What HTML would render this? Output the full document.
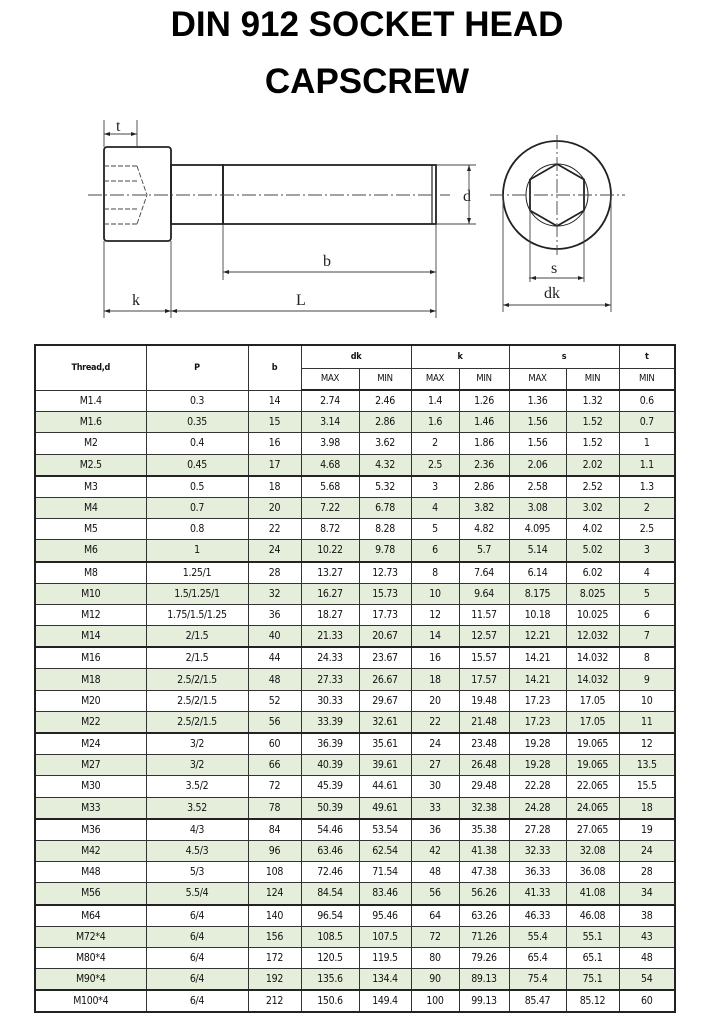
<!DOCTYPE html>
<html><head><meta charset="utf-8"><style>
body{margin:0;width:720px;height:1024px;background:#fff;position:relative;overflow:hidden;font-family:"Liberation Sans",sans-serif}
.t{position:absolute;left:0;width:734px;text-align:center;font-weight:bold;font-size:35px;color:#000}
table{position:absolute;left:34px;top:344px;width:640px;border-collapse:collapse;table-layout:fixed;border:2px solid #222}
td{border:1px solid #333;text-align:center;font-size:10.5px;height:20.2px;padding:0;color:#111;font-family:"DejaVu Sans Condensed","Liberation Sans",sans-serif;letter-spacing:-0.3px;line-height:12px}
td.h{font-weight:bold;font-size:9px;height:22px}
td.s{font-size:9.5px;height:20px}
tr.g td{background:#e5eedb}
tr.b td{border-bottom:2px solid #222}
</style></head><body>
<div class="t" style="top:5px">DIN 912 SOCKET HEAD</div>
<div class="t" style="top:62px">CAPSCREW</div>
<svg width="720" height="340" style="position:absolute;left:0;top:0" font-family="Liberation Serif,serif" font-size="16">
<g stroke="#222" fill="none" stroke-width="1.8">
<rect x="104" y="147" width="67" height="94" rx="3"/>
<rect x="171" y="165" width="52" height="59"/>
<rect x="223" y="165" width="213" height="59"/>
<line x1="432" y1="165" x2="432" y2="224" stroke-width="1.2"/>
<circle cx="557" cy="195" r="54"/>
<polygon points="557,164 584,179.5 584,210.5 557,226 530,210.5 530,179.5"/>
<circle cx="557" cy="195" r="31" stroke-width="1"/>
</g>
<g stroke="#444" stroke-width="0.9" fill="none">
<line x1="88" y1="195" x2="450" y2="195" stroke-dasharray="14,3,2,3"/>
<line x1="490" y1="195" x2="625" y2="195" stroke-dasharray="14,3,2,3"/>
<line x1="557" y1="135" x2="557" y2="255" stroke-dasharray="14,3,2,3"/>
<path d="M104 166h33M104 181h33M104 209h33M104 224h33M137 166l10 29-10 29" stroke-dasharray="5,2"/>
<path d="M104 147V120M137 147V120M104 241V318M171 241V318M223 224V280M436 224V318M436 165h40M436 224h40M530 210V282M584 210V282M503 195V312M611 195V312"/>
<path d="M104 134h33M469 165v59M223 272h213M104 311h332M529 278h55M503 305h108"/>
</g>
<g fill="#222">
<path d="M104 134l6-2v4zM137 134l-6-2v4zM469 165l-2 6h4zM469 224l-2-6h4zM223 272l6-2v4zM436 272l-6-2v4zM104 311l6-2v4zM171 311l-6-2v4zM171 311l6-2v4zM436 311l-6-2v4zM530 278l6-2v4zM584 278l-6-2v4zM503 305l6-2v4zM611 305l-6-2v4z"/>
<text x="116" y="131">t</text><text x="463" y="201">d</text><text x="323" y="266">b</text>
<text x="132" y="305">k</text><text x="296" y="305">L</text><text x="551" y="273">s</text><text x="544" y="298">dk</text>
</g>
</svg>
<table>
<colgroup><col style="width:111px"><col style="width:102px"><col style="width:53px"><col style="width:58px"><col style="width:52px"><col style="width:48px"><col style="width:50px"><col style="width:57px"><col style="width:53px"><col style="width:56px"></colgroup>
<tr><td class="h" rowspan="2">Thread,d</td><td class="h" rowspan="2">P</td><td class="h" rowspan="2">b</td><td class="h" colspan="2">dk</td><td class="h" colspan="2">k</td><td class="h" colspan="2">s</td><td class="h">t</td></tr>
<tr class="b"><td class="s">MAX</td><td class="s">MIN</td><td class="s">MAX</td><td class="s">MIN</td><td class="s">MAX</td><td class="s">MIN</td><td class="s">MIN</td></tr>
<tr><td>M1.4</td><td>0.3</td><td>14</td><td>2.74</td><td>2.46</td><td>1.4</td><td>1.26</td><td>1.36</td><td>1.32</td><td>0.6</td></tr>
<tr class="g"><td>M1.6</td><td>0.35</td><td>15</td><td>3.14</td><td>2.86</td><td>1.6</td><td>1.46</td><td>1.56</td><td>1.52</td><td>0.7</td></tr>
<tr><td>M2</td><td>0.4</td><td>16</td><td>3.98</td><td>3.62</td><td>2</td><td>1.86</td><td>1.56</td><td>1.52</td><td>1</td></tr>
<tr class="g b"><td>M2.5</td><td>0.45</td><td>17</td><td>4.68</td><td>4.32</td><td>2.5</td><td>2.36</td><td>2.06</td><td>2.02</td><td>1.1</td></tr>
<tr><td>M3</td><td>0.5</td><td>18</td><td>5.68</td><td>5.32</td><td>3</td><td>2.86</td><td>2.58</td><td>2.52</td><td>1.3</td></tr>
<tr class="g"><td>M4</td><td>0.7</td><td>20</td><td>7.22</td><td>6.78</td><td>4</td><td>3.82</td><td>3.08</td><td>3.02</td><td>2</td></tr>
<tr><td>M5</td><td>0.8</td><td>22</td><td>8.72</td><td>8.28</td><td>5</td><td>4.82</td><td>4.095</td><td>4.02</td><td>2.5</td></tr>
<tr class="g b"><td>M6</td><td>1</td><td>24</td><td>10.22</td><td>9.78</td><td>6</td><td>5.7</td><td>5.14</td><td>5.02</td><td>3</td></tr>
<tr><td>M8</td><td>1.25/1</td><td>28</td><td>13.27</td><td>12.73</td><td>8</td><td>7.64</td><td>6.14</td><td>6.02</td><td>4</td></tr>
<tr class="g"><td>M10</td><td>1.5/1.25/1</td><td>32</td><td>16.27</td><td>15.73</td><td>10</td><td>9.64</td><td>8.175</td><td>8.025</td><td>5</td></tr>
<tr><td>M12</td><td>1.75/1.5/1.25</td><td>36</td><td>18.27</td><td>17.73</td><td>12</td><td>11.57</td><td>10.18</td><td>10.025</td><td>6</td></tr>
<tr class="g b"><td>M14</td><td>2/1.5</td><td>40</td><td>21.33</td><td>20.67</td><td>14</td><td>12.57</td><td>12.21</td><td>12.032</td><td>7</td></tr>
<tr><td>M16</td><td>2/1.5</td><td>44</td><td>24.33</td><td>23.67</td><td>16</td><td>15.57</td><td>14.21</td><td>14.032</td><td>8</td></tr>
<tr class="g"><td>M18</td><td>2.5/2/1.5</td><td>48</td><td>27.33</td><td>26.67</td><td>18</td><td>17.57</td><td>14.21</td><td>14.032</td><td>9</td></tr>
<tr><td>M20</td><td>2.5/2/1.5</td><td>52</td><td>30.33</td><td>29.67</td><td>20</td><td>19.48</td><td>17.23</td><td>17.05</td><td>10</td></tr>
<tr class="g b"><td>M22</td><td>2.5/2/1.5</td><td>56</td><td>33.39</td><td>32.61</td><td>22</td><td>21.48</td><td>17.23</td><td>17.05</td><td>11</td></tr>
<tr><td>M24</td><td>3/2</td><td>60</td><td>36.39</td><td>35.61</td><td>24</td><td>23.48</td><td>19.28</td><td>19.065</td><td>12</td></tr>
<tr class="g"><td>M27</td><td>3/2</td><td>66</td><td>40.39</td><td>39.61</td><td>27</td><td>26.48</td><td>19.28</td><td>19.065</td><td>13.5</td></tr>
<tr><td>M30</td><td>3.5/2</td><td>72</td><td>45.39</td><td>44.61</td><td>30</td><td>29.48</td><td>22.28</td><td>22.065</td><td>15.5</td></tr>
<tr class="g b"><td>M33</td><td>3.52</td><td>78</td><td>50.39</td><td>49.61</td><td>33</td><td>32.38</td><td>24.28</td><td>24.065</td><td>18</td></tr>
<tr><td>M36</td><td>4/3</td><td>84</td><td>54.46</td><td>53.54</td><td>36</td><td>35.38</td><td>27.28</td><td>27.065</td><td>19</td></tr>
<tr class="g"><td>M42</td><td>4.5/3</td><td>96</td><td>63.46</td><td>62.54</td><td>42</td><td>41.38</td><td>32.33</td><td>32.08</td><td>24</td></tr>
<tr><td>M48</td><td>5/3</td><td>108</td><td>72.46</td><td>71.54</td><td>48</td><td>47.38</td><td>36.33</td><td>36.08</td><td>28</td></tr>
<tr class="g b"><td>M56</td><td>5.5/4</td><td>124</td><td>84.54</td><td>83.46</td><td>56</td><td>56.26</td><td>41.33</td><td>41.08</td><td>34</td></tr>
<tr><td>M64</td><td>6/4</td><td>140</td><td>96.54</td><td>95.46</td><td>64</td><td>63.26</td><td>46.33</td><td>46.08</td><td>38</td></tr>
<tr class="g"><td>M72*4</td><td>6/4</td><td>156</td><td>108.5</td><td>107.5</td><td>72</td><td>71.26</td><td>55.4</td><td>55.1</td><td>43</td></tr>
<tr><td>M80*4</td><td>6/4</td><td>172</td><td>120.5</td><td>119.5</td><td>80</td><td>79.26</td><td>65.4</td><td>65.1</td><td>48</td></tr>
<tr class="g b"><td>M90*4</td><td>6/4</td><td>192</td><td>135.6</td><td>134.4</td><td>90</td><td>89.13</td><td>75.4</td><td>75.1</td><td>54</td></tr>
<tr><td>M100*4</td><td>6/4</td><td>212</td><td>150.6</td><td>149.4</td><td>100</td><td>99.13</td><td>85.47</td><td>85.12</td><td>60</td></tr>
</table>
</body></html>
